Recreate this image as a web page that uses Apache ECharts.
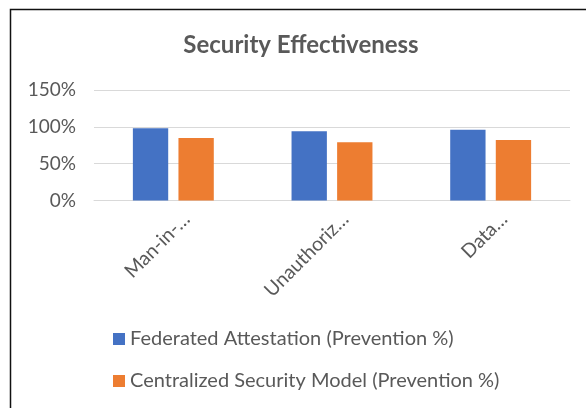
<!DOCTYPE html>
<html>
<head>
<meta charset="utf-8">
<script src="https://cdn.jsdelivr.net/npm/echarts@6/dist/echarts.min.js"></script>
<style>
html,body{margin:0;padding:0;background:#fff;}
#c{width:586px;height:408px;}
</style>
</head>
<body>
<div id="c"></div>
<script>
const title = 'Security Effectiveness';
const categories = ['Man-in-…', 'Unauthoriz…', 'Data…'];
const seriesNames = ['Federated Attestation (Prevention %)', 'Centralized Security Model (Prevention %)'];
const federated = [98, 94, 96];
const centralized = [85, 79, 82];
const yTicks = { min: 0, max: 150, interval: 50 };

const FONT = 'Lato, "Open Sans", "Liberation Sans", sans-serif';
const TXT = '#595959';

const chart = echarts.init(document.getElementById('c'), null, { renderer: 'canvas' });
chart.setOption({
  animation: false,
  backgroundColor: '#fff',
  title: {
    text: title,
    left: 301,
    top: 33,
    padding: 0,
    textAlign: 'center',
    textStyle: { fontFamily: FONT, fontSize: 24, fontWeight: 'bold', color: TXT }
  },
  graphic: [{
    type: 'rect',
    shape: { x: 10.5, y: 9.5, width: 700, height: 500 },
    style: { fill: 'none', stroke: '#111', lineWidth: 1.5 },
    silent: true, z: 100
  }],
  legend: {
    orient: 'vertical',
    left: 113,
    top: 329,
    padding: 0,
    itemWidth: 12,
    itemHeight: 12,
    itemGap: 22,
    icon: 'rect',
    textStyle: { fontFamily: FONT, fontSize: 20, color: TXT },
    data: seriesNames
  },
  grid: { left: 94, right: 16, top: 90, bottom: 207.5, containLabel: false },
  xAxis: {
    type: 'category',
    data: categories,
    axisLine: { show: true, lineStyle: { color: '#d9d9d9', width: 1 } },
    axisTick: { show: false },
    axisLabel: { rotate: 45, fontFamily: FONT, fontSize: 19.5, color: TXT, margin: 2, interval: 0, verticalAlign: 'top', lineHeight: 38 }
  },
  yAxis: {
    type: 'value',
    min: yTicks.min, max: yTicks.max, interval: yTicks.interval,
    axisLine: { show: false },
    axisTick: { show: false },
    splitLine: { lineStyle: { color: '#d9d9d9', width: 1 } },
    axisLabel: { formatter: '{value}%', fontFamily: FONT, fontSize: 19, color: TXT, margin: 18 }
  },
  series: [
    { name: seriesNames[0], type: 'bar', data: federated, itemStyle: { color: '#4472C4' }, barGap: '29%', barCategoryGap: '49%' },
    { name: seriesNames[1], type: 'bar', data: centralized, itemStyle: { color: '#ED7D31' }, barGap: '29%', barCategoryGap: '49%' }
  ]
});
</script>
</body>
</html>
